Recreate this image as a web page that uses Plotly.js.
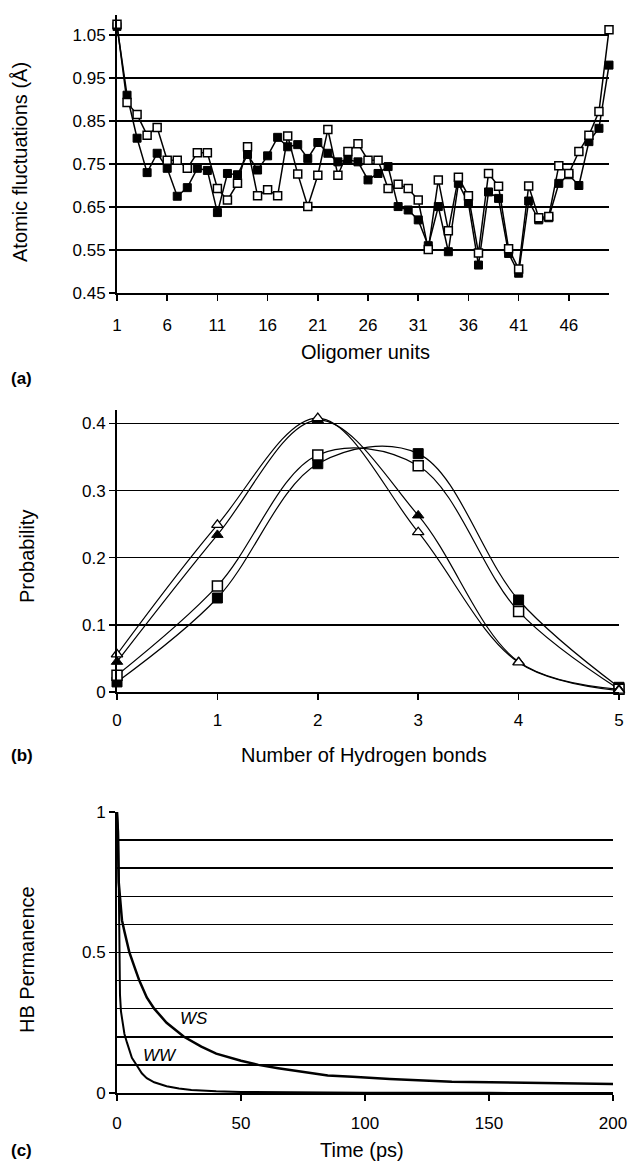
<!DOCTYPE html>
<html><head><meta charset="utf-8">
<script src="https://cdn.plot.ly/plotly-3.0.1.min.js"></script>
<style>html,body{margin:0;padding:0;background:#fff;}#chart{width:628px;height:1163px;}</style>
</head><body><div id="chart"></div>
<script>
// ---------- Panel (a) data ----------
const oligomerUnits = [1,2,3,4,5,6,7,8,9,10,11,12,13,14,15,16,17,18,19,20,21,22,23,24,25,26,27,28,29,30,31,32,33,34,35,36,37,38,39,40,41,42,43,44,45,46,47,48,49,50];
const fluctFilled = [1.070,0.910,0.810,0.730,0.775,0.740,0.675,0.695,0.740,0.735,
                     0.637,0.728,0.725,0.772,0.736,0.769,0.812,0.790,0.795,0.763,
                     0.800,0.775,0.755,0.760,0.755,0.713,0.728,0.744,0.651,0.643,
                     0.620,0.560,0.651,0.546,0.705,0.659,0.515,0.685,0.670,0.542,
                     0.496,0.664,0.620,0.625,0.705,0.725,0.700,0.802,0.833,0.980];
const fluctOpen   = [1.075,0.893,0.865,0.817,0.835,0.759,0.759,0.740,0.776,0.776,
                     0.693,0.666,0.705,0.790,0.676,0.690,0.676,0.815,0.727,0.651,
                     0.724,0.830,0.724,0.779,0.797,0.759,0.759,0.693,0.703,0.693,
                     0.666,0.551,0.713,0.595,0.719,0.676,0.543,0.728,0.698,0.553,
                     0.506,0.699,0.625,0.628,0.746,0.728,0.779,0.817,0.872,1.062];
const unitTicks = [1,6,11,16,21,26,31,36,41,46];

// ---------- Panel (b) data ----------
const hbondCount = [0,1,2,3,4,5];
const probFilledSquare   = [0.015,0.140,0.340,0.355,0.137,0.007];
const probOpenSquare     = [0.025,0.158,0.353,0.337,0.120,0.004];
const probFilledTriangle = [0.045,0.234,0.405,0.263,0.045,0.004];
const probOpenTriangle   = [0.056,0.249,0.408,0.238,0.044,0.002];

// ---------- Panel (c) data ----------
const wsTime  = [0,0.3,0.7,1,1.5,2,3,5,7,9,12,15,20,27,34,40,50,57,65,75,85,95,110,135,170,200];
const wsValue = [1.0,0.93,0.75,0.72,0.65,0.615,0.575,0.50,0.45,0.40,0.34,0.30,0.25,0.20,0.165,0.14,0.115,0.10,0.088,0.076,0.062,0.058,0.05,0.04,0.036,0.032];
const wwTime  = [0,0.5,0.9,1.2,1.6,2,3,4,5,6,8,10,12,15,20,25,30,40,50,60,75,100,150,200];
const wwValue = [1.0,0.93,0.60,0.35,0.29,0.265,0.21,0.18,0.15,0.125,0.098,0.07,0.053,0.038,0.024,0.016,0.011,0.006,0.004,0.003,0.002,0.001,0.0005,0];

const FONT = 'Liberation Sans, Arial, Helvetica, sans-serif';
const H = 1163, W = 628;
const px = v => v / W;
const py = v => 1 - v / H;

const openMarkerA = {symbol:'square', size:8, color:'#fff', line:{color:'#000', width:1.5}};
const filledMarkerA = {symbol:'square', size:8, color:'#000', line:{color:'#000', width:1}};

const traces = [
  {x: oligomerUnits, y: fluctFilled, xaxis:'x', yaxis:'y', mode:'lines+markers', cliponaxis:false,
   line:{color:'#000', width:1.5}, marker: filledMarkerA},
  {x: oligomerUnits, y: fluctOpen, xaxis:'x', yaxis:'y', mode:'lines+markers', cliponaxis:false,
   line:{color:'#000', width:1.5}, marker: openMarkerA},

  {x: hbondCount, y: probFilledSquare, xaxis:'x2', yaxis:'y2', mode:'lines+markers', cliponaxis:false,
   line:{color:'#000', width:1.2, shape:'spline'}, marker:{symbol:'square', size:10, color:'#000', line:{color:'#000', width:1}}},
  {x: hbondCount, y: probOpenSquare, xaxis:'x2', yaxis:'y2', mode:'lines+markers', cliponaxis:false,
   line:{color:'#000', width:1.2, shape:'spline'}, marker:{symbol:'square', size:10, color:'#fff', line:{color:'#000', width:1.5}}},
  {x: hbondCount, y: probFilledTriangle, xaxis:'x2', yaxis:'y2', mode:'lines+markers', cliponaxis:false,
   line:{color:'#000', width:1.2, shape:'spline'}, marker:{symbol:'triangle-up', size:10, color:'#000', line:{color:'#000', width:1}}},
  {x: hbondCount, y: probOpenTriangle, xaxis:'x2', yaxis:'y2', mode:'lines+markers', cliponaxis:false,
   line:{color:'#000', width:1.2, shape:'spline'}, marker:{symbol:'triangle-up', size:10, color:'#fff', line:{color:'#000', width:1.3}}},

  {x: wsTime, y: wsValue, xaxis:'x3', yaxis:'y3', mode:'lines', line:{color:'#000', width:2.5}},
  {x: wwTime, y: wwValue, xaxis:'x3', yaxis:'y3', mode:'lines', line:{color:'#000', width:2}}
];

const axisBase = {
  showline:true, linecolor:'#000', linewidth:2, ticks:'outside', ticklen:6, tickwidth:1.5, tickcolor:'#000',
  tickfont:{family:FONT, size:17, color:'#000'}, zeroline:false, mirror:false, fixedrange:true
};

function label(text, x, y, opts) {
  return Object.assign({text:text, xref:'paper', yref:'paper', x:px(x), y:py(y), xanchor:'center', yanchor:'middle',
                        showarrow:false, font:{size:20, family:FONT, color:'#000'}}, opts || {});
}

const layout = {
  width: W, height: H, margin:{l:0, r:0, t:0, b:0}, showlegend:false,
  paper_bgcolor:'#fff', plot_bgcolor:'#fff', font:{family:FONT, color:'#000'},
  xaxis: Object.assign({}, axisBase, {domain:[px(117), px(609)], range:[1,50], tickvals: unitTicks, showgrid:false, anchor:'y', ticklabelstandoff:10}),
  yaxis: Object.assign({}, axisBase, {domain:[py(293), py(15)], range:[0.45,1.0965], tick0:0.45, dtick:0.1, tickformat:'.2f',
          showgrid:true, gridcolor:'#000', gridwidth:2, anchor:'x'}),
  xaxis2: Object.assign({}, axisBase, {domain:[px(117), px(619)], range:[0,5], dtick:1, showgrid:false, anchor:'y2', ticklabelstandoff:6}),
  yaxis2: Object.assign({}, axisBase, {domain:[py(692), py(410)], range:[0,0.42], tickvals:[0,0.1,0.2,0.3,0.4], ticktext:['0','0.1','0.2','0.3','0.4'],
          showgrid:true, gridcolor:'#000', gridwidth:1.5, anchor:'x2'}),
  xaxis3: Object.assign({}, axisBase, {domain:[px(117), px(613)], range:[0,200], dtick:50, showgrid:false, anchor:'y3', ticklabelstandoff:8}),
  yaxis3: Object.assign({}, axisBase, {domain:[py(1093), py(812)], range:[0,1], tickvals:[0,0.5,1], ticktext:['0','0.5','1'],
          showgrid:true, gridcolor:'#000', gridwidth:1.5, anchor:'x3',
          minor:{tickvals:[0.1,0.2,0.3,0.4,0.6,0.7,0.8,0.9], showgrid:true, gridcolor:'#000', gridwidth:1.5, ticks:''}}),
  annotations: [
    label('Atomic fluctuations (Å)', 20, 162, {textangle:-90}),
    label('Oligomer units', 365, 352),
    label('<b>(a)</b>', 9, 378, {xanchor:'left', font:{size:17, family:FONT, color:'#000'}}),

    label('Probability', 27, 557, {textangle:-90}),
    label('Number of Hydrogen bonds', 364, 755),
    label('<b>(b)</b>', 9, 755, {xanchor:'left', font:{size:17, family:FONT, color:'#000'}}),

    label('HB Permanence', 27, 960, {textangle:-90}),
    label('Time (ps)', 362, 1150),
    label('<b>(c)</b>', 9, 1150, {xanchor:'left', font:{size:17, family:FONT, color:'#000'}}),

    {text:'<i>WS</i>', xref:'x3', yref:'y3', x:31, y:0.264, xanchor:'center', yanchor:'middle', showarrow:false, font:{size:17, family:FONT, color:'#000'}},
    {text:'<i>WW</i>', xref:'x3', yref:'y3', x:17.5, y:0.133, xanchor:'center', yanchor:'middle', showarrow:false, font:{size:17, family:FONT, color:'#000'}}
  ]
};

Plotly.newPlot('chart', traces, layout, {staticPlot:true, displayModeBar:false});
</script>
</body></html>
